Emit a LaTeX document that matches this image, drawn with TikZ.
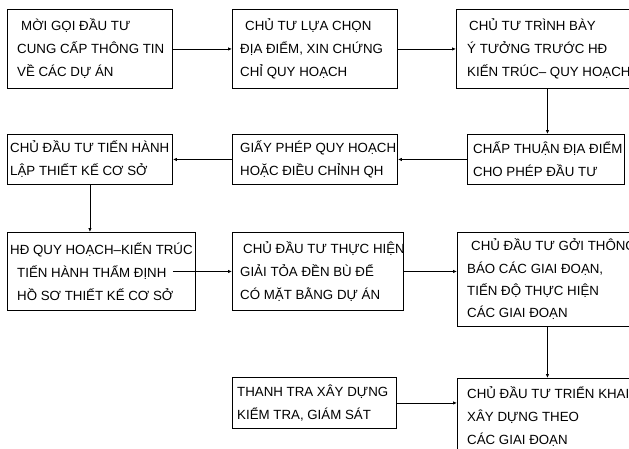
\documentclass[tikz,border=0pt]{standalone}
\usepackage{fontspec}
\setmainfont{Liberation Sans}
\usetikzlibrary{arrows.meta}

\begin{document}
\begin{tikzpicture}[x=1pt,y=-1pt,
        box/.style={draw,line width=0.9pt,anchor=north west,inner sep=0pt},
        txt/.style={anchor=west,align=left,inner sep=0pt,font=\fontsize{13.3}{23}\selectfont},
        link/.style={line width=0.9pt,-{Latex[length=4pt,width=3.5pt]}}]
        \useasboundingbox (0,0) rectangle (629,448);
        \clip (0,0) rectangle (629,448);
        \node[box,minimum width=165pt,minimum height=79pt] (moigoi) at (7,9) {};
        \node[box,minimum width=165pt,minimum height=79pt] (luachon) at (232,9) {};
        \node[box,minimum width=182pt,minimum height=79pt] (trinhbay) at (456,9) {};
        \node[box,minimum width=165pt,minimum height=50pt] (lapthietke) at (7,134) {};
        \node[box,minimum width=165pt,minimum height=50pt] (giayphep) at (232,134) {};
        \node[box,minimum width=157pt,minimum height=50pt] (chapthuan) at (467,134) {};
        \node[box,minimum width=188pt,minimum height=78pt] (thamdinh) at (7,232) {};
        \node[box,minimum width=171pt,minimum height=78pt] (giaitoa) at (232,232) {};
        \node[box,minimum width=180pt,minimum height=94pt] (thongbao) at (457,232) {};
        \node[box,minimum width=164pt,minimum height=51pt] (thanhtra) at (232,377) {};
        \node[box,minimum width=180pt,minimum height=76pt] (trienkhai) at (457,378) {};

        \node[txt] (moigoi-t) at ([xshift=10pt]moigoi.west) {\hspace*{4pt}MỜI GỌI ĐẦU TƯ\\CUNG CẤP THÔNG TIN\\VỀ CÁC DỰ ÁN};
        \node[txt] (luachon-t) at ([xshift=8pt]luachon.west) {\hspace*{5pt}CHỦ TƯ LỰA CHỌN\\ĐỊA ĐIỂM, XIN CHỨNG\\CHỈ QUY HOẠCH};
        \node[txt] (trinhbay-t) at ([xshift=11pt]trinhbay.west) {\hspace*{2pt}CHỦ TƯ TRÌNH BÀY\\Ý TƯỞNG TRƯỚC HĐ\\KIẾN TRÚC– QUY HOẠCH};
        \node[txt] (lapthietke-t) at ([xshift=3pt]lapthietke.west) {CHỦ ĐẦU TƯ TIẾN HÀNH\\LẬP THIẾT KẾ CƠ SỞ};
        \node[txt] (giayphep-t) at ([xshift=8pt]giayphep.west) {GIẤY PHÉP QUY HOẠCH\\HOẶC ĐIỀU CHỈNH QH};
        \node[txt] (chapthuan-t) at ([xshift=6pt]chapthuan.west) {CHẤP THUẬN ĐỊA ĐIỂM\\CHO PHÉP ĐẦU TƯ};
        \node[txt] (thamdinh-t) at ([xshift=3pt]thamdinh.west) {HĐ QUY HOẠCH–KIẾN TRÚC\\\hspace*{7pt}TIẾN HÀNH THẨM ĐỊNH\\\hspace*{7pt}HỒ SƠ THIẾT KẾ CƠ SỞ};
        \node[txt] (giaitoa-t) at ([xshift=8pt]giaitoa.west) {\hspace*{3pt}CHỦ ĐẦU TƯ THỰC HIỆN\\GIẢI TỎA ĐỀN BÙ ĐỂ\\CÓ MẶT BẰNG DỰ ÁN};
        \node[txt,font=\fontsize{13.3}{22.3}\selectfont] (thongbao-t) at ([xshift=10pt]thongbao.west) {\hspace*{4pt}CHỦ ĐẦU TƯ GỞI THÔNG\\BÁO CÁC GIAI ĐOẠN,\\TIẾN ĐỘ THỰC HIỆN\\CÁC GIAI ĐOẠN};
        \node[txt] (thanhtra-t) at ([xshift=5pt]thanhtra.west) {THANH TRA XÂY DỰNG\\KIỂM TRA, GIÁM SÁT};
        \node[txt] (trienkhai-t) at ([xshift=10pt]trienkhai.west) {CHỦ ĐẦU TƯ TRIỂN KHAI\\XÂY DỰNG THEO\\CÁC GIAI ĐOẠN};

        \draw[link] (moigoi.east) -- (luachon.west);
        \draw[link] (luachon.east) -- (trinhbay.west);
        \draw[link] (trinhbay.south) -- (trinhbay.south |- chapthuan.north);
        \draw[link] (chapthuan.west) -- (giayphep.east);
        \draw[link] (giayphep.west) -- (lapthietke.east);
        \draw[link] (lapthietke.south) -- (lapthietke.south |- thamdinh.north);
        \draw[link] ([xshift=-23pt]thamdinh.east) -- (giaitoa.west);
        \draw[link] (giaitoa.east) -- (giaitoa.east -| thongbao.west);
        \draw[link] (thongbao.south) -- (trienkhai.north);
        \draw[link] (thanhtra.east) -- (thanhtra.east -| trienkhai.west);
    \end{tikzpicture}
\end{document}
